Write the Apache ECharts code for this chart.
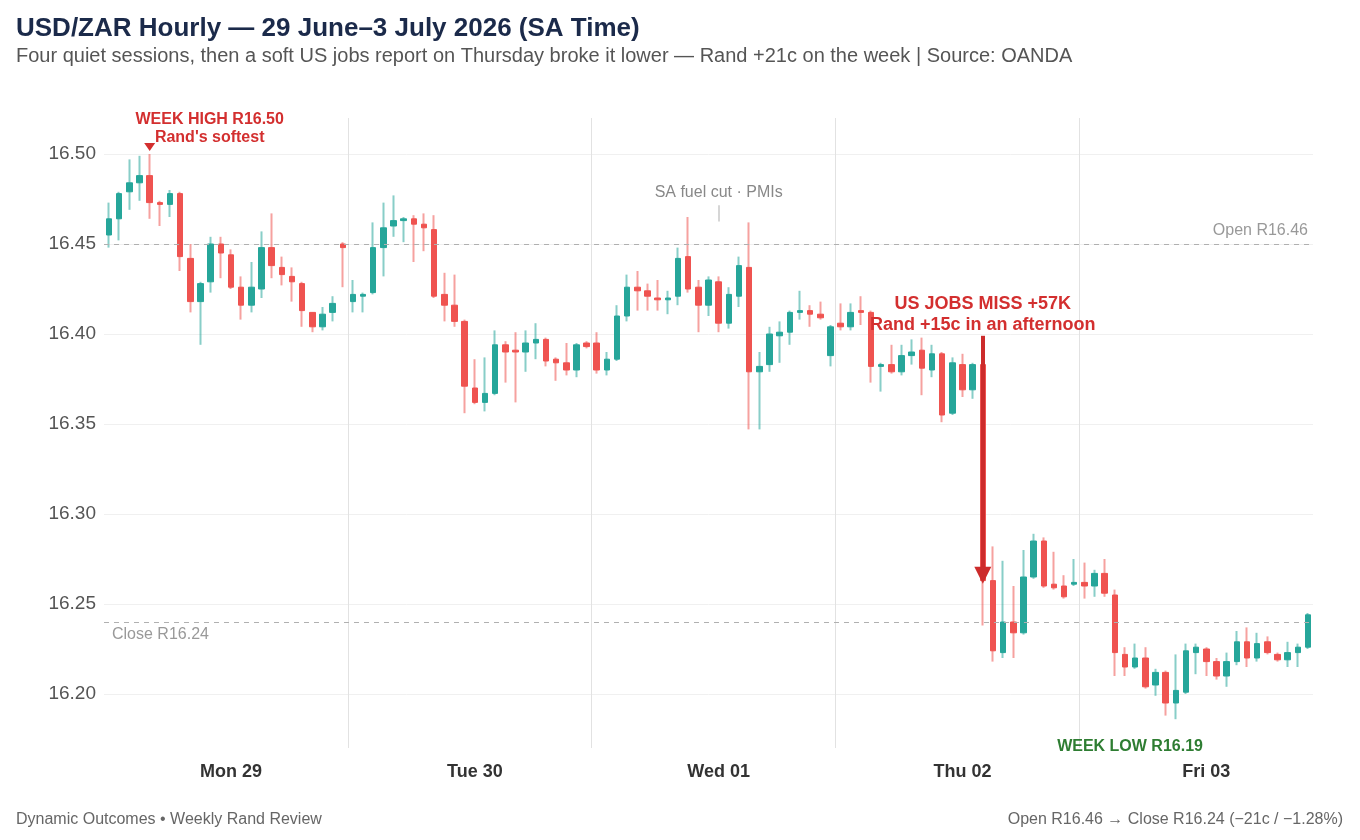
<!DOCTYPE html>
<html>
<head>
<meta charset="utf-8">
<title>USD/ZAR Hourly</title>
<script src="https://cdn.jsdelivr.net/npm/echarts@6/dist/echarts.min.js"></script>
<style>
  html, body { margin: 0; padding: 0; background: #fff; }
  #chart { width: 1360px; height: 840px; }
</style>
</head>
<body>
<div id="chart"></div>
<script>
// session days and how many hourly candles each one has (Fri closes early)
const days = ['Mon 29', 'Tue 30', 'Wed 01', 'Thu 02', 'Fri 03']
const hoursPerDay = [24, 24, 24, 24, 23]
const yTicks = [16.20, 16.25, 16.30, 16.35, 16.40, 16.45, 16.50]

// hourly OHLC
const opens = [
  16.455, 16.464, 16.479, 16.484, 16.488, 16.473, 16.472, 16.478, 16.442, 16.418, 16.429, 16.450,
  16.444, 16.426, 16.416, 16.425, 16.448, 16.437, 16.432, 16.428, 16.412, 16.404, 16.412, 16.450,
  16.418, 16.421, 16.423, 16.448, 16.460, 16.463, 16.464, 16.461, 16.458, 16.422, 16.416, 16.407,
  16.370, 16.362, 16.367, 16.394, 16.391, 16.390, 16.395, 16.397, 16.386, 16.384, 16.380, 16.395,
  16.395, 16.380, 16.386, 16.410, 16.426, 16.424, 16.420, 16.419, 16.421, 16.443, 16.426, 16.416,
  16.429, 16.406, 16.421, 16.437, 16.379, 16.383, 16.399, 16.401, 16.412, 16.413, 16.411, 16.388,
  16.406, 16.404, 16.413, 16.412, 16.382, 16.383, 16.379, 16.388, 16.391, 16.380, 16.389, 16.356,
  16.383, 16.369, 16.383, 16.263, 16.223, 16.240, 16.234, 16.265, 16.285, 16.261, 16.260, 16.261,
  16.262, 16.260, 16.267, 16.255, 16.222, 16.215, 16.220, 16.205, 16.212, 16.195, 16.201, 16.223,
  16.225, 16.218, 16.210, 16.218, 16.229, 16.220, 16.229, 16.222, 16.219, 16.223, 16.226
]
const closes = [
  16.464, 16.478, 16.484, 16.488, 16.473, 16.472, 16.478, 16.443, 16.418, 16.428, 16.450, 16.445,
  16.426, 16.416, 16.426, 16.448, 16.438, 16.433, 16.429, 16.413, 16.404, 16.411, 16.417, 16.448,
  16.422, 16.422, 16.448, 16.459, 16.463, 16.464, 16.461, 16.459, 16.421, 16.416, 16.407, 16.371,
  16.362, 16.367, 16.394, 16.390, 16.390, 16.395, 16.397, 16.385, 16.384, 16.380, 16.394, 16.393,
  16.380, 16.386, 16.410, 16.426, 16.424, 16.421, 16.419, 16.420, 16.442, 16.425, 16.416, 16.430,
  16.406, 16.422, 16.438, 16.379, 16.382, 16.400, 16.401, 16.412, 16.413, 16.411, 16.409, 16.404,
  16.404, 16.412, 16.412, 16.382, 16.383, 16.379, 16.388, 16.390, 16.381, 16.389, 16.355, 16.384,
  16.369, 16.383, 16.263, 16.224, 16.240, 16.234, 16.265, 16.285, 16.260, 16.259, 16.254, 16.262,
  16.260, 16.267, 16.256, 16.223, 16.215, 16.220, 16.204, 16.212, 16.195, 16.202, 16.224, 16.226,
  16.218, 16.210, 16.218, 16.229, 16.220, 16.228, 16.223, 16.219, 16.223, 16.226, 16.244
]
const lows = [
  16.448, 16.452, 16.469, 16.474, 16.464, 16.460, 16.465, 16.435, 16.412, 16.394, 16.423, 16.431,
  16.425, 16.408, 16.412, 16.420, 16.431, 16.427, 16.418, 16.404, 16.401, 16.402, 16.407, 16.426,
  16.412, 16.412, 16.422, 16.432, 16.454, 16.451, 16.440, 16.446, 16.420, 16.407, 16.404, 16.356,
  16.361, 16.357, 16.366, 16.373, 16.362, 16.379, 16.386, 16.382, 16.374, 16.377, 16.376, 16.392,
  16.378, 16.377, 16.385, 16.407, 16.413, 16.413, 16.413, 16.411, 16.416, 16.423, 16.401, 16.410,
  16.401, 16.403, 16.415, 16.347, 16.347, 16.379, 16.384, 16.394, 16.408, 16.404, 16.408, 16.382,
  16.402, 16.402, 16.405, 16.373, 16.368, 16.378, 16.377, 16.383, 16.366, 16.376, 16.351, 16.355,
  16.365, 16.364, 16.238, 16.218, 16.220, 16.220, 16.233, 16.264, 16.259, 16.258, 16.253, 16.260,
  16.253, 16.254, 16.254, 16.210, 16.210, 16.214, 16.203, 16.199, 16.188, 16.186, 16.200, 16.211,
  16.210, 16.208, 16.204, 16.216, 16.215, 16.218, 16.222, 16.218, 16.215, 16.215, 16.225
]
const highs = [
  16.473, 16.479, 16.497, 16.499, 16.500, 16.474, 16.480, 16.479, 16.450, 16.429, 16.454, 16.454,
  16.447, 16.432, 16.440, 16.457, 16.467, 16.443, 16.437, 16.429, 16.412, 16.415, 16.421, 16.451,
  16.430, 16.423, 16.462, 16.473, 16.477, 16.465, 16.466, 16.467, 16.466, 16.434, 16.433, 16.408,
  16.386, 16.387, 16.402, 16.396, 16.401, 16.402, 16.406, 16.398, 16.387, 16.395, 16.395, 16.396,
  16.401, 16.390, 16.416, 16.433, 16.435, 16.428, 16.430, 16.424, 16.448, 16.465, 16.430, 16.432,
  16.432, 16.426, 16.443, 16.462, 16.390, 16.404, 16.407, 16.413, 16.424, 16.416, 16.418, 16.405,
  16.417, 16.417, 16.421, 16.413, 16.384, 16.394, 16.394, 16.397, 16.398, 16.394, 16.390, 16.387,
  16.389, 16.384, 16.386, 16.282, 16.274, 16.260, 16.280, 16.289, 16.287, 16.279, 16.266, 16.275,
  16.273, 16.269, 16.275, 16.258, 16.226, 16.228, 16.226, 16.214, 16.213, 16.222, 16.228, 16.228,
  16.226, 16.220, 16.223, 16.235, 16.237, 16.234, 16.232, 16.223, 16.229, 16.228, 16.245
]

// reference levels for the week
const weekOpen = 16.455
const weekClose = 16.244

const FONT = 'Liberation Sans, Arial, Helvetica, sans-serif'
const UP = '#26a69a'
const DOWN = '#ef5350'
const RED_TEXT = '#d32f2f'
const SEP = '#e2e2e2'

const categories = []
days.forEach((d, di) => {
  for (let h = 0; h < hoursPerDay[di]; h++) {
    categories.push(d + ' ' + String(h).padStart(2, '0') + ':00')
  }
})

const ohlc = opens.map((o, i) => [o, closes[i], lows[i], highs[i]])
const bodies = opens.map((o, i) => [o, closes[i], Math.min(o, closes[i]), Math.max(o, closes[i])])

const textPoint = (idx, value, text, style, offset) => ({
  coord: [categories[idx], value],
  symbol: 'circle',
  symbolSize: 1,
  itemStyle: { color: 'rgba(0,0,0,0)' },
  label: Object.assign({
    show: true,
    position: 'inside',
    formatter: text,
    fontFamily: FONT,
    offset: offset || [0, 0]
  }, style)
})

const chart = echarts.init(document.getElementById('chart'))

chart.setOption({
  animation: false,
  backgroundColor: '#fff',
  title: [
    {
      left: 11,
      top: 10,
      text: 'USD/ZAR Hourly — 29 June–3 July 2026 (SA Time)',
      subtext: 'Four quiet sessions, then a soft US jobs report on Thursday broke it lower — Rand +21c on the week | Source: OANDA',
      itemGap: 1,
      textStyle: { fontFamily: FONT, fontSize: 26, fontWeight: 'bold', color: '#1b2a4a', lineHeight: 28 },
      subtextStyle: { fontFamily: FONT, fontSize: 20, color: '#555', lineHeight: 24 }
    },
    {
      left: 11,
      top: 807,
      text: 'Dynamic Outcomes • Weekly Rand Review',
      textStyle: { fontFamily: FONT, fontSize: 16, fontWeight: 'normal', color: '#666' }
    },
    {
      right: 12,
      top: 807,
      text: 'Open R16.46 → Close R16.24 (−21c / −1.28%)',
      textStyle: { fontFamily: FONT, fontSize: 16, fontWeight: 'normal', color: '#666' }
    }
  ],
  grid: {
    left: 104,
    right: 47,
    top: 118,
    bottom: 92
  },
  xAxis: {
    type: 'category',
    data: categories,
    boundaryGap: true,
    axisLine: { show: false },
    axisTick: { show: false },
    axisLabel: {
      interval: (i) => i % 24 === 12,
      formatter: (v) => v.split(' ').slice(0, 2).join(' '),
      color: '#333',
      fontFamily: FONT,
      fontSize: 18,
      fontWeight: 'bold',
      margin: 15
    },
    splitLine: {
      show: true,
      interval: (i) => i > 0 && i % 24 === 0,
      // four day separators; the closing edge of the band axis stays hidden
      lineStyle: { color: [SEP, SEP, SEP, SEP, 'rgba(0,0,0,0)'], width: 1 }
    }
  },
  yAxis: {
    type: 'value',
    min: 16.17,
    max: 16.52,
    scale: true,
    axisLine: { show: false },
    axisTick: { show: false, customValues: yTicks },
    axisLabel: {
      customValues: yTicks,
      formatter: (v) => v.toFixed(2),
      color: '#555',
      fontFamily: FONT,
      fontSize: 19,
      margin: 8
    },
    splitLine: {
      lineStyle: { color: '#f0f0f0', width: 1 }
    }
  },
  series: [
    {
      // wicks: thin pale candles sitting behind the solid bodies
      name: 'wicks',
      type: 'candlestick',
      data: ohlc,
      barWidth: 1,
      silent: true,
      itemStyle: {
        color: 'rgba(38, 166, 154, 0.55)',
        color0: 'rgba(239, 83, 80, 0.55)',
        borderColor: 'rgba(38, 166, 154, 0.55)',
        borderColor0: 'rgba(239, 83, 80, 0.55)',
        borderWidth: 2
      }
    },
    {
      name: 'USD/ZAR',
      type: 'candlestick',
      data: bodies,
      barWidth: 6,
      itemStyle: {
        color: UP,
        color0: DOWN,
        borderColor: UP,
        borderColor0: DOWN,
        borderWidth: 1
      },
      markLine: {
        silent: true,
        symbol: 'none',
        data: [
          {
            yAxis: weekOpen,
            lineStyle: { color: '#b0b0b0', type: [5, 5], width: 1.2 },
            label: {
              show: true,
              position: 'insideEndTop',
              formatter: 'Open R16.46',
              color: '#999',
              fontFamily: FONT,
              fontSize: 16
            }
          },
          {
            yAxis: weekClose,
            lineStyle: { color: '#b0b0b0', type: [5, 5], width: 1.2 },
            label: {
              show: true,
              position: 'insideStartBottom',
              formatter: 'Close R16.24',
              color: '#999',
              fontFamily: FONT,
              fontSize: 16,
              distance: [8, 5]
            }
          },
          [
            { coord: [categories[60], 16.4715], lineStyle: { color: '#d6d6d6', width: 2, type: 'solid' }, label: { show: false } },
            { coord: [categories[60], 16.4625] }
          ],
          [
            {
              coord: [categories[86], 16.399],
              symbol: 'none',
              lineStyle: { color: '#cc2b2b', width: 4, type: 'solid' },
              label: { show: false }
            },
            { coord: [categories[86], 16.266], symbol: 'triangle', symbolSize: 17, symbolRotate: 180 }
          ]
        ]
      },
      markPoint: {
        silent: true,
        data: [
          {
            coord: [categories[4], 16.5],
            symbol: 'triangle',
            symbolRotate: 180,
            symbolSize: [11, 8],
            symbolOffset: [0, -7],
            itemStyle: { color: RED_TEXT },
            label: { show: false }
          },
          textPoint(10, 16.514, 'WEEK HIGH R16.50\nRand\'s softest',
            { color: RED_TEXT, fontSize: 16, fontWeight: 'bold', lineHeight: 18 }, [-1, 0]),
          textPoint(60, 16.4785, 'SA fuel cut · PMIs',
            { color: '#888', fontSize: 16 }),
          textPoint(86, 16.4107, 'US JOBS MISS +57K\nRand +15c in an afternoon',
            { color: RED_TEXT, fontSize: 18, fontWeight: 'bold', lineHeight: 21 }),
          textPoint(100, 16.171, 'WEEK LOW R16.19',
            { color: '#2e7d32', fontSize: 16, fontWeight: 'bold' }, [5, 0])
        ]
      }
    }
  ]
})
</script>
</body>
</html>
